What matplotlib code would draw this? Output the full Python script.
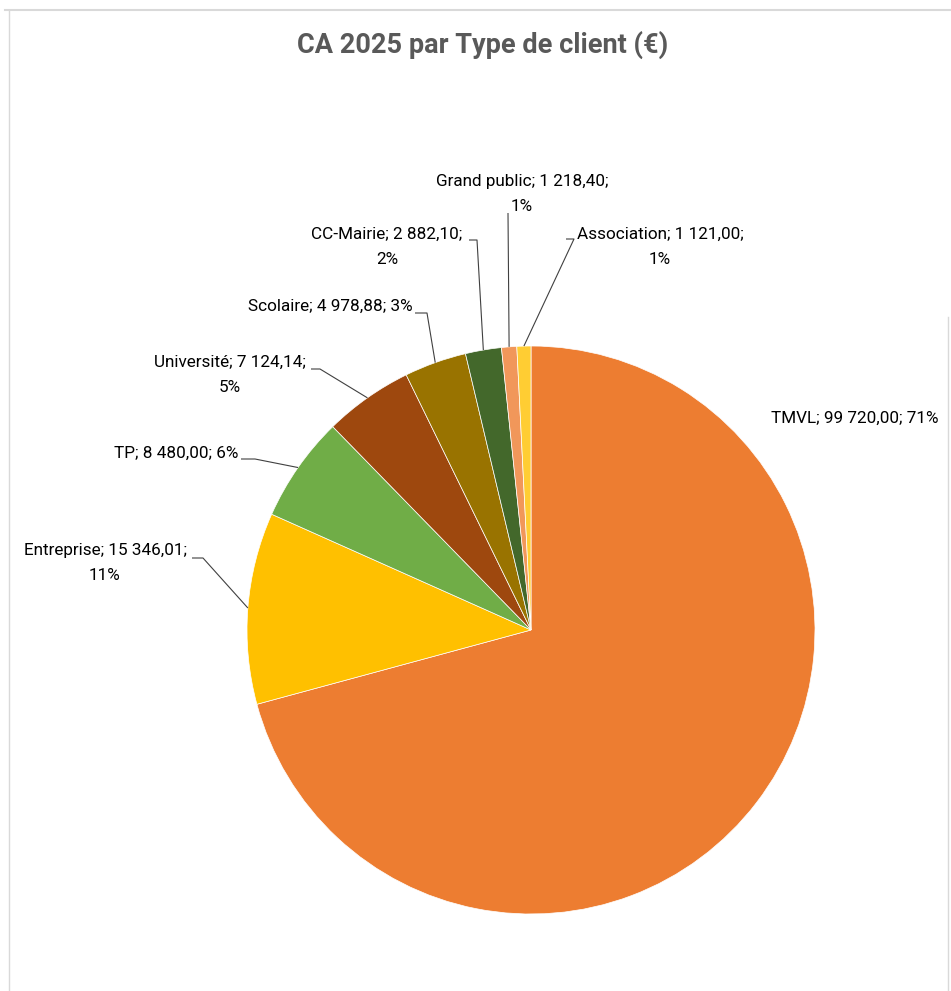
import matplotlib
matplotlib.use('Agg')
import matplotlib.pyplot as plt
import numpy as np

# data
categories = ['TMVL', 'Entreprise', 'TP', 'Université', 'Scolaire',
              'CC-Mairie', 'Grand public', 'Association']
ca_values = [99720.00, 15346.01, 8480.00, 7124.14, 4978.88,
             2882.10, 1218.40, 1121.00]
pct_labels = [71, 11, 6, 5, 3, 2, 1, 1]
colors = ['#ED7D31', '#FFC000', '#70AD47', '#9E480E', '#997300',
          '#43682B', '#F1975A', '#FFCD33']
title = 'CA 2025 par Type de client (€)'

W, H = 951, 991
CX, CY, R = 531, 630, 284

# label layout in pixel coords (top-left origin):
# text x, text y, ha, wrap after value, leader start, leader elbow
LAYOUT = {
    'TMVL':         (771, 418, 'left',   False, None, None),
    'Entreprise':   (105, 563, 'center', True,  (192, 558), (203, 558)),
    'TP':           (238, 453, 'right',  False, (241, 459), (255, 459)),
    'Université':   (230, 375, 'center', True,  (311, 369), (320, 369)),
    'Scolaire':     (413, 306, 'right',  False, (415, 313), (427, 313)),
    'CC-Mairie':    (387, 247, 'center', True,  (469, 240), (477, 240)),
    'Grand public': (522, 194, 'center', True,  (508, 213), (508, 213)),
    'Association':  (660, 247, 'center', True,  (566, 239), (574, 239)),
}


def py(y):
    return H - y


def fr_num(v):
    return f'{v:,.2f}'.replace(',', ' ').replace('.', ',')


plt.rcParams['font.family'] = ['Roboto', 'DejaVu Sans']

fig = plt.figure(figsize=(W / 100, H / 100), dpi=100)
ax = fig.add_axes([0, 0, 1, 1])

wedges, _ = ax.pie(ca_values, colors=colors, startangle=90, counterclock=False,
                   center=(CX, py(CY)), radius=R,
                   wedgeprops=dict(edgecolor='white', linewidth=0.5))

for w, name, val, pct in zip(wedges, categories, ca_values, pct_labels):
    tx, ty, ha, wrap, start, elbow = LAYOUT[name]
    sep = '\n' if wrap else ' '
    txt = f'{name}; {fr_num(val)};{sep}{pct}%'
    ax.text(tx, py(ty), txt, ha=ha, va='center', fontsize=12.3,
            color='#000000', linespacing=1.8, multialignment='center')
    if start is not None:
        mid = np.deg2rad((w.theta1 + w.theta2) / 2)
        ex = CX + R * np.cos(mid)
        ey = py(CY) + R * np.sin(mid)
        ax.plot([start[0], elbow[0], ex], [py(start[1]), py(elbow[1]), ey],
                color='#404040', lw=0.8, solid_capstyle='butt')

ax.text(483, py(45), title, ha='center', va='center', fontsize=19.5,
        fontweight='bold', color='#595959')

# chart area frame
frame_c = '#D9D9D9'
ax.plot([5, W], [py(10), py(10)], color=frame_c, lw=1.5)
ax.plot([9, 9], [py(10), 0], color=frame_c, lw=1.0)
ax.plot([948, 948], [py(317), 0], color=frame_c, lw=1.0)

ax.set_xlim(0, W)
ax.set_ylim(0, H)
ax.set_aspect('equal')
ax.axis('off')

fig.savefig('out.png', dpi=100)
